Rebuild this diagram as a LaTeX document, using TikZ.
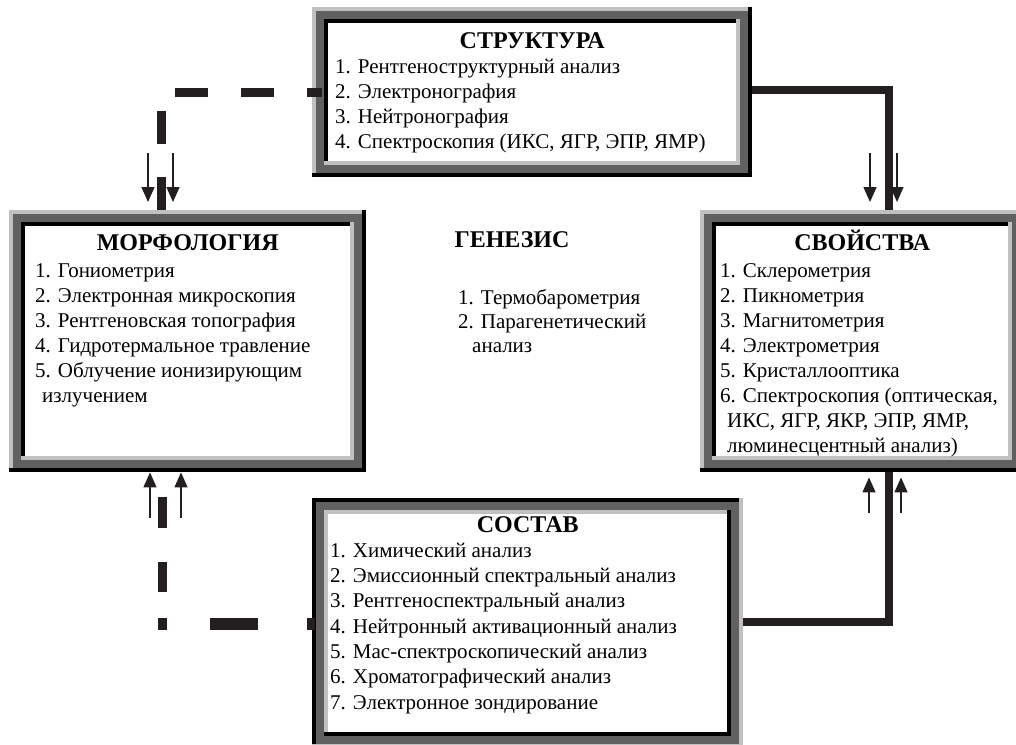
\documentclass[tikz,border=0pt]{standalone}
\usepackage{fontspec}
\setmainfont{Liberation Serif}
\usetikzlibrary{positioning,arrows.meta,calc}
\definecolor{lgray}{HTML}{C0C0C0}
\definecolor{dgray}{HTML}{606060}
\definecolor{ink}{HTML}{231F20}
% bevelled frame: node, outer top-left, outer bottom-right, inner top-left, inner bottom-right
\newcommand{\bevelframe}[5]{%
  \fill[#3] (#1.north west) rectangle (#1.south east);
  \fill[#2] (#1.north west) rectangle ($(#1.south east)+(-4,-4)$);
  \fill[dgray] ($(#1.north west)+(4,4)$) rectangle ($(#1.south east)+(-4,-4)$);
  \fill[#5] ($(#1.north west)+(12,12)$) rectangle ($(#1.south east)+(-12,-12)$);
  \fill[#4] ($(#1.north west)+(12,12)$) rectangle ($(#1.south east)+(-16,-16)$);
  \fill[white] ($(#1.north west)+(16,16)$) rectangle ($(#1.south east)+(-16,-16)$);
}

\begin{document}
\begin{tikzpicture}[x=1pt, y=-1pt,
    box/.style={rectangle, inner sep=0pt, anchor=north west},
    ttl/.style={font=\fontsize{24}{28}\selectfont\bfseries, inner sep=0pt, anchor=base},
    item/.style={font=\fontsize{21}{25}\selectfont, inner sep=0pt, anchor=base west},
    arr/.style={-{Triangle[length=15pt,width=13pt]}, line width=1.3pt, ink},
    link/.style={line width=8pt, ink},
    dline/.style={line width=9pt, ink, dash pattern=on 33pt off 33pt},
]
  \clip (0,0) rectangle (1016,744);
  % Boxes
  \node[box, minimum width=440pt, minimum height=170pt] (struct) at (312,7) {};
  \node[box, minimum width=357pt, minimum height=262pt] (morph) at (9,210) {};
  \node[box, minimum width=324pt, minimum height=262pt] (svoy) at (700,210) {};
  \node[box, minimum width=431pt, minimum height=250pt] (sost) at (312,498) {};
  \bevelframe{struct}{lgray}{black}{black}{lgray}
  \bevelframe{morph}{lgray}{black}{black}{lgray}
  \bevelframe{svoy}{lgray}{black}{black}{lgray}
  \bevelframe{sost}{black}{lgray}{lgray}{black}
  % Titles
  \node[ttl] (structT) at ($(struct.north)+(0,41)$) {СТРУКТУРА};
  \node[ttl] (morphT) at ($(morph.north)+(0,40)$) {МОРФОЛОГИЯ};
  \node[ttl] (svoyT) at ($(svoy.north)+(0,40)$) {СВОЙСТВА};
  \node[ttl] (sostT) at ($(sost.north)+(0,34)$) {СОСТАВ};
  \node[ttl] (genT) at (512,247) {ГЕНЕЗИС};
  % Lists
  \foreach \t [count=\i] in {1. Рентгеноструктурный анализ, 2. Электронография,
      3. Нейтронография, {4. Спектроскопия (ИКС, ЯГР, ЭПР, ЯМР)}}
    \node[item] (struct\i) at ($(struct.north west)+(23,41+25*\i)$) {\t};
  \foreach \t [count=\i] in {1. Гониометрия, 2. Электронная микроскопия,
      3. Рентгеновская топография, 4. Гидротермальное травление,
      5. Облучение ионизирующим, \hspace{7pt}излучением}
    \node[item] (morph\i) at ($(morph.north west)+(26,42+25*\i)$) {\t};
  \foreach \t [count=\i] in {1. Склерометрия, 2. Пикнометрия, 3. Магнитометрия,
      4. Электрометрия, 5. Кристаллооптика, {6. Спектроскопия (оптическая,},
      {\hspace{7pt}ИКС, ЯГР, ЯКР, ЭПР, ЯМР,}, \hspace{7pt}люминесцентный анализ)}
    \node[item] (svoy\i) at ($(svoy.north west)+(20,42+25*\i)$) {\t};
  \foreach \t [count=\i] in {1. Химический анализ, 2. Эмиссионный спектральный анализ,
      3. Рентгеноспектральный анализ, 4. Нейтронный активационный анализ,
      5. Мас-спектроскопический анализ, 6. Хроматографический анализ,
      7. Электронное зондирование}
    \node[item] (sost\i) at ($(sost.north west)+(18,34+25.3*\i)$) {\t};
  \foreach \t [count=\i] in {1. Термобарометрия, 2. Парагенетический, \hspace{14pt}анализ}
    \node[item] (gen\i) at ($(genT.base)+(-54,33+24*\i)$) {\t};
  % Dashed links
  \coordinate (dc1) at (161,92);
  \draw[dline] (dc1 |- morph.north) -- (dc1) -- ($(dc1 -| struct.west)+(10,0)$);
  \coordinate (dc2) at (162,624);
  \draw[line width=11.5pt, ink, dash pattern=on 8pt off 49pt on 48pt off 60pt]
    ($(dc2 -| sost.west)+(3,0)$) -- (dc2);
  \draw[line width=9pt, ink, dash pattern=on 12pt off 26pt on 30pt off 34pt on 31pt off 40pt]
    ($(dc2)+(0,6)$) -- (dc2 |- morph.south);
  % Solid links
  \coordinate (sc1) at (889,90);
  \draw[link] (sc1 -| struct.east) -- (sc1) -- (sc1 |- svoy.north);
  \coordinate (sc2) at (889,622);
  \draw[link] (sc2 |- svoy.south) -- (sc2) -- (sc2 -| sost.east);
  % Arrows
  \coordinate (ma1) at (148,153);
  \coordinate (ma2) at (173,153);
  \coordinate (sa1) at (870,153);
  \coordinate (sa2) at (897,153);
  \coordinate (mb1) at (150,518);
  \coordinate (mb2) at (181,518);
  \coordinate (sb1) at (869,513);
  \coordinate (sb2) at (901,513);
  \foreach \c in {ma1,ma2} \draw[arr, shorten >=8pt] (\c) -- (\c |- morph.north);
  \foreach \c in {sa1,sa2} \draw[arr, shorten >=8pt] (\c) -- (\c |- svoy.north);
  \foreach \c in {mb1,mb2} \draw[arr] (\c) -- (\c |- morph.south);
  \foreach \c in {sb1,sb2} \draw[arr, shorten >=5pt] (\c) -- (\c |- svoy.south);
\end{tikzpicture}
\end{document}
